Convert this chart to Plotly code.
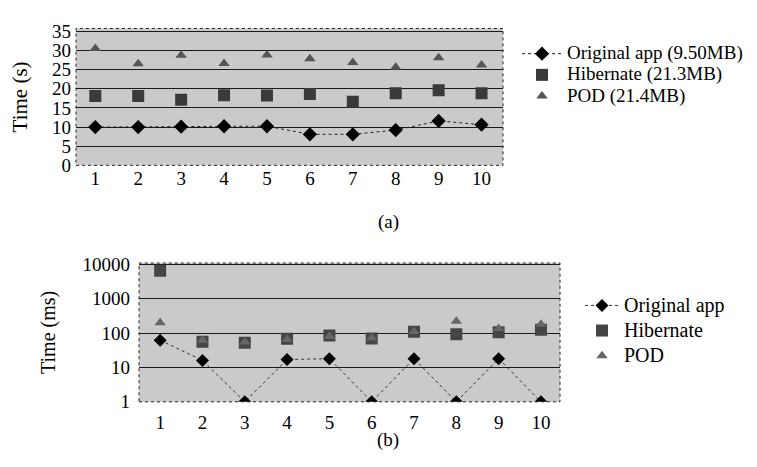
import plotly.graph_objects as go

runs = [1, 2, 3, 4, 5, 6, 7, 8, 9, 10]

# (a) total time in seconds
a_original = [10.0, 10.0, 10.1, 10.2, 10.2, 8.1, 8.1, 9.2, 11.6, 10.6]
a_hibernate = [18.1, 18.1, 17.1, 18.3, 18.2, 18.6, 16.6, 18.8, 19.6, 18.8]
a_pod = [30.5, 26.5, 28.7, 26.6, 28.8, 27.8, 26.8, 25.6, 28.1, 26.2]
a_ticks = [0, 5, 10, 15, 20, 25, 30, 35]

# (b) time in ms (log scale)
b_original = [62, 16, 1, 17, 18, 1, 18, 1, 18, 1]
b_hibernate = [6500, 56, 52, 68, 85, 70, 110, 92, 105, 125]
b_pod = [200, 62, 55, 65, 80, 72, 112, 220, 135, 180]
b_ticks = [1, 10, 100, 1000, 10000]

names_a = ["Original app (9.50MB)", "Hibernate (21.3MB)", "POD (21.4MB)"]
names_b = ["Original app", "Hibernate", "POD"]

FONT = "Liberation Serif"
W, H = 757, 467


def px_x(p):
    return p / W


def px_y(p):
    return 1 - p / H


def big(s, size=20):
    return f"<span style='font-size:{size}px'>{s}</span>"


fig = go.Figure()

# ----- (a) -----
fig.add_trace(go.Scatter(x=runs, y=a_original, name=big(names_a[0], 19), mode="lines+markers",
                         line=dict(color="#222", width=1, dash="dot"),
                         marker=dict(symbol="diamond", size=11, color="#000"),
                         xaxis="x", yaxis="y", legend="legend"))
fig.add_trace(go.Scatter(x=runs, y=a_hibernate, name=big(names_a[1], 19), mode="markers",
                         marker=dict(symbol="square", size=12, color="#3a3a3a"),
                         xaxis="x", yaxis="y", legend="legend"))
fig.add_trace(go.Scatter(x=runs, y=a_pod, name=big(names_a[2], 19), mode="markers",
                         marker=dict(symbol="triangle-up", size=10, color="#555"),
                         xaxis="x", yaxis="y", legend="legend"))

# ----- (b) -----
fig.add_trace(go.Scatter(x=runs, y=b_hibernate, name=big(names_b[1]), mode="markers",
                         marker=dict(symbol="square", size=12, color="#454545"),
                         xaxis="x2", yaxis="y2", legend="legend2", legendrank=2))
fig.add_trace(go.Scatter(x=runs, y=b_pod, name=big(names_b[2]), mode="markers",
                         marker=dict(symbol="triangle-up", size=10, color="#666"),
                         xaxis="x2", yaxis="y2", legend="legend2", legendrank=3))
fig.add_trace(go.Scatter(x=runs, y=b_original, name=big(names_b[0]), mode="lines+markers",
                         line=dict(color="#333", width=1, dash="dot"),
                         marker=dict(symbol="diamond", size=10, color="#000"),
                         xaxis="x2", yaxis="y2", legend="legend2", legendrank=1))

BG = "#cacaca"
axis_common = dict(showline=False, zeroline=False, ticks="",
                   tickfont=dict(family=FONT, size=19, color="#000"))

fig.update_layout(
    width=W, height=H,
    margin=dict(l=0, r=0, t=0, b=0),
    paper_bgcolor="white",
    plot_bgcolor=BG,
    font=dict(family=FONT, color="#000"),
    showlegend=True,
    xaxis=dict(domain=[px_x(68), px_x(495)], range=[0.55, 10.5], tickvals=runs,
               showgrid=False, anchor="y", ticklabelstandoff=0, **axis_common),
    yaxis=dict(domain=[px_y(155), px_y(12)], range=[0, 35.7], tickvals=a_ticks,
               showgrid=True, gridcolor="#1a1a1a", gridwidth=1, anchor="x",
               ticklabelstandoff=4,
               title=dict(text="Time (s)", font=dict(family=FONT, size=21), standoff=22),
               **axis_common),
    xaxis2=dict(domain=[px_x(131), px_x(552)], range=[0.5, 10.45], tickvals=runs,
                showgrid=False, anchor="y2", ticklabelstandoff=7, **axis_common),
    yaxis2=dict(domain=[px_y(402), px_y(257)], type="log", range=[0, 4.04], tickvals=b_ticks,
                ticktext=[str(v) for v in b_ticks],
                showgrid=True, gridcolor="#1a1a1a", gridwidth=1, anchor="x2",
                ticklabelstandoff=8,
                title=dict(text="Time (ms)", font=dict(family=FONT, size=20), standoff=21),
                **axis_common),
    legend=dict(x=px_x(509), y=px_y(22), xanchor="left", yanchor="top",
                bgcolor="rgba(0,0,0,0)", font=dict(family=FONT, size=14),
                tracegroupgap=0, itemwidth=40),
    legend2=dict(x=px_x(572), y=px_y(283), xanchor="left", yanchor="top",
                 bgcolor="rgba(0,0,0,0)", font=dict(family=FONT, size=17),
                 tracegroupgap=0, itemwidth=34, traceorder="normal"),
    shapes=[
        dict(type="rect", xref="x domain", yref="y domain", x0=0, x1=1, y0=0, y1=1,
             line=dict(color="#222", width=1, dash="dot"), layer="above"),
        dict(type="rect", xref="x2 domain", yref="y2 domain", x0=0, x1=1, y0=0, y1=1,
             line=dict(color="#222", width=1, dash="dot"), layer="above"),
    ],
    annotations=[
        dict(text="(a)", x=px_x(380), y=px_y(214), xref="paper", yref="paper",
             xanchor="center", yanchor="middle",
             showarrow=False, font=dict(family=FONT, size=19)),
        dict(text="(b)", x=px_x(380), y=px_y(442), xref="paper", yref="paper",
             xanchor="center", yanchor="middle",
             showarrow=False, font=dict(family=FONT, size=19)),
    ],
)

fig.write_html("out.html")
